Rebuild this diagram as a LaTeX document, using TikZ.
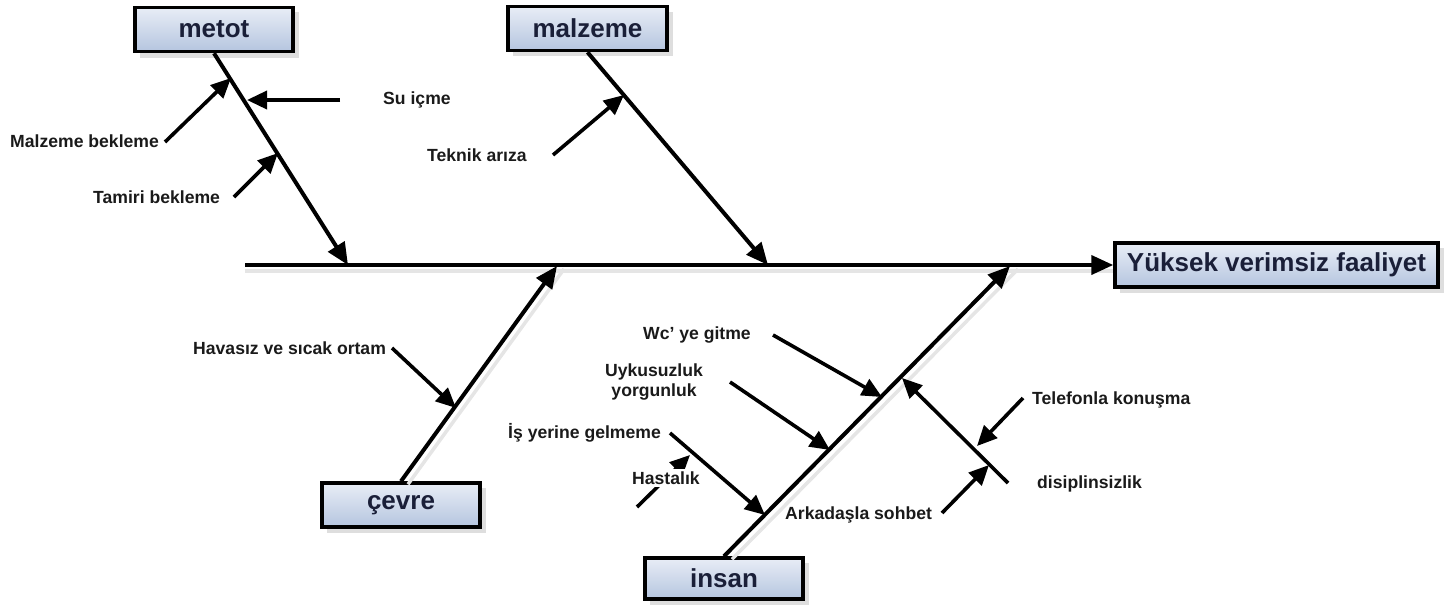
\documentclass[tikz,border=0pt]{standalone}
\usepackage{fontspec}
\setmainfont{Liberation Sans}
\usetikzlibrary{arrows.meta,shadows}
\definecolor{boxtop}{HTML}{E8EDF6}
\definecolor{boxbot}{HTML}{B5C5DF}
\definecolor{navy}{HTML}{1A1F38}
\definecolor{ink}{HTML}{1A1A1A}
\begin{document}
\begin{tikzpicture}[x=1pt,y=-1pt,
  catbox/.style={draw=black, line width=3.5pt, top color=boxtop, bottom color=boxbot,
    minimum height=44pt, inner sep=0pt, font=\fontsize{26}{28}\selectfont\bfseries, text=navy},
  boxshadow/.style={fill=black!13, draw=none},
  lbl/.style={font=\fontsize{17.6}{20}\selectfont\bfseries, text=ink, inner sep=0pt, anchor=west},
  bone/.style={line width=4pt, -{Triangle[length=22pt,width=19pt]}},
  rib/.style={line width=3.6pt, -{Triangle[length=20pt,width=18pt]}},
  ghost/.style={line width=3.5pt, draw=black!10},
]
\useasboundingbox (0,0) rectangle (1449,606);

% shadows of boxes
\fill[boxshadow] (140,12) rectangle (299,58);
\fill[boxshadow] (513,12) rectangle (673,56);
\fill[boxshadow] (327,488) rectangle (486,533);
\fill[boxshadow] (650,563) rectangle (809,605);
\fill[boxshadow] (1120,248) rectangle (1444,293);

% boxes
\node[catbox, minimum width=158pt] (metot) at (214,29.5) {metot};
\node[catbox, minimum width=159pt] (malz) at (587.5,28.5) {malzeme};
\node[catbox, minimum width=158pt] (cevre) at (401,505) {çevre};
\node[catbox, minimum width=158pt, minimum height=41pt] (insan) at (724,578.5) {insan};
\node[catbox, minimum width=323pt] (effect) at (1276.5,265) {Yüksek verimsiz faaliyet};

% junctions on the main line
\coordinate (head) at (245,265);
\coordinate (mJ) at (348,265);
\coordinate (zJ) at (768,265);
\coordinate (cJ) at (557,266);
\coordinate (iJ) at (1010,266);

% soft shadow lines
\draw[ghost] ([shift={(0,6)}]head) -- ([shift={(0,6)}]effect.west);
\draw[ghost] ([shift={(7,3)}]cevre.north) -- ([shift={(7,3)}]cJ);
\draw[ghost] ([shift={(8,3)}]insan.north) -- ([shift={(8,3)}]iJ);

% main line and bones
\draw[bone] (head) -- (effect.west);
\draw[bone] (metot.south) -- (mJ);
\draw[bone] (malz.south) -- (zJ);
\draw[bone] (cevre.north) -- (cJ);
\draw[bone] (insan.north) -- (iJ);

% rib coordinates
\coordinate (suT) at (340,100);  \coordinate (suH) at (247,100);
\coordinate (mbT) at (165,142);  \coordinate (mbH) at (231,78);
\coordinate (tbT) at (234,197);  \coordinate (tbH) at (278,153);
\coordinate (tkT) at (553,155);  \coordinate (tkH) at (624,95);
\coordinate (hvT) at (392,348);  \coordinate (hvH) at (456,408);
\coordinate (wcT) at (773,335);  \coordinate (wcH) at (882,397);
\coordinate (uyT) at (730,382);  \coordinate (uyH) at (830,450);
\coordinate (isT) at (670,433);  \coordinate (isH) at (765,515);
\coordinate (hsT) at (637,507);  \coordinate (hsH) at (690,455);
\coordinate (dsT) at (1008,483); \coordinate (dsH) at (902,378);
\coordinate (tlT) at (1023,398); \coordinate (tlH) at (977,446);
\coordinate (akT) at (942,513);  \coordinate (akH) at (989,465);

\draw[rib] (suT) -- (suH);
\draw[rib] (mbT) -- (mbH);
\draw[rib] (tbT) -- (tbH);
\draw[rib] (tkT) -- (tkH);
\draw[rib] (hvT) -- (hvH);
\draw[rib] (wcT) -- (wcH);
\draw[rib] (uyT) -- (uyH);
\draw[rib] (isT) -- (isH);
\draw[rib] (hsT) -- (hsH);
\draw[rib] (dsT) -- (dsH);
\draw[rib] (tlT) -- (tlH);
\draw[rib] (akT) -- (akH);

% labels
\node[lbl] (su) at (383,100) {Su içme};
\node[lbl] (tek) at (427,155) {Teknik arıza};
\node[lbl] (mb) at (10,141) {Malzeme bekleme};
\node[lbl] (tb) at (93,197) {Tamiri bekleme};
\node[lbl] (hav) at (193,348) {Havasız ve sıcak ortam};
\node[lbl] (wc) at (643,335) {Wc’ ye gitme};
\node[lbl, align=center, anchor=center] (uyk) at (654,382) {Uykusuzluk\\yorgunluk};
\node[lbl] (is) at (508,433) {İş yerine gelmeme};
\node[lbl, fill=white, inner sep=3pt] (hast) at (629,478) {Hastalık};
\node[lbl] (ark) at (785,515) {Arkadaşla sohbet};
\node[lbl] (tel) at (1032,400) {Telefonla konuşma};
\node[lbl] (dis) at (1037,484) {disiplinsizlik};
\end{tikzpicture}
\end{document}
